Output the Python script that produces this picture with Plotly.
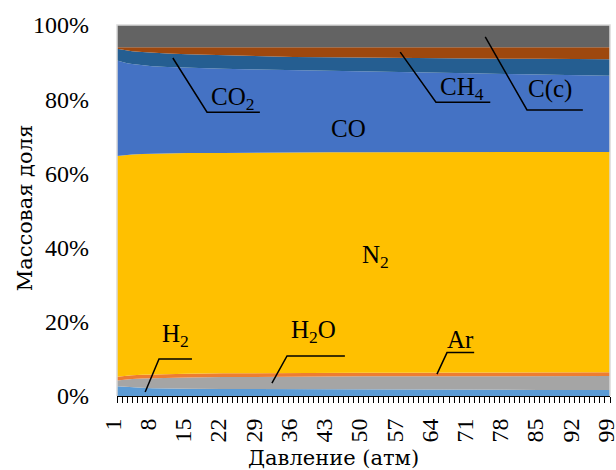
import plotly.graph_objects as go

# Pressure points (atm) and mass fractions (%) of the equilibrium products
pressure = [1, 2, 3, 4, 6, 8, 11, 15, 22, 29, 36, 43, 50, 57, 64, 71, 78, 85, 92, 99]

h2 = [2.6, 2.5, 2.4, 2.3, 2.2, 2.1, 2.0, 1.95, 1.9, 1.85, 1.8, 1.78, 1.75, 1.72, 1.7, 1.68, 1.66, 1.64, 1.62, 1.6]
h2o = [1.6, 1.9, 2.1, 2.3, 2.5, 2.7, 2.9, 3.05, 3.2, 3.35, 3.4, 3.52, 3.55, 3.58, 3.65, 3.67, 3.74, 3.76, 3.78, 3.8]
ar = [1.0, 1.0, 1.0, 1.0, 1.0, 1.0, 1.0, 1.0, 1.0, 1.0, 1.0, 1.0, 1.0, 1.0, 1.0, 1.0, 1.0, 1.0, 1.0, 1.0]
n2 = [59.5, 59.5, 59.5, 59.5, 59.5, 59.5, 59.5, 59.5, 59.4, 59.4, 59.4, 59.4, 59.4, 59.4, 59.4, 59.4, 59.4, 59.4, 59.4, 59.4]
co = [25.7, 25.1, 24.7, 24.4, 24.0, 23.6, 23.3, 23.0, 22.7, 22.4, 22.2, 21.95, 21.8, 21.6, 21.4, 21.25, 21.05, 20.8, 20.6, 20.5]
co2 = [3.2, 3.3, 3.4, 3.4, 3.5, 3.6, 3.6, 3.6, 3.6, 3.6, 3.6, 3.7, 3.7, 3.8, 3.9, 4.0, 4.1, 4.3, 4.4, 4.5]
ch4 = [0.4, 0.7, 0.9, 1.1, 1.3, 1.5, 1.7, 1.9, 2.2, 2.4, 2.6, 2.7, 2.8, 2.9, 3.0, 3.0, 3.1, 3.1, 3.2, 3.2]
c_s = [6.0, 6.0, 6.0, 6.0, 6.0, 6.0, 6.0, 6.0, 6.0, 6.0, 6.0, 6.0, 6.0, 6.0, 6.0, 6.0, 6.0, 6.0, 6.0, 6.0]

species = ["H2", "H2O", "Ar", "N2", "CO", "CO2", "CH4", "C(c)"]
colors = ["#5B9BD5", "#A5A5A5", "#ED7D31", "#FFC000", "#4472C4", "#255E91", "#9E480E", "#636363"]
series = [h2, h2o, ar, n2, co, co2, ch4, c_s]

x_ticks = [1, 8, 15, 22, 29, 36, 43, 50, 57, 64, 71, 78, 85, 92, 99]
y_ticks = [0, 20, 40, 60, 80, 100]

FONT = "Liberation Serif, Tinos, DejaVu Serif, serif"
TITLE_FONT = "DejaVu Serif, serif"

fig = go.Figure()
for name, vals, col in zip(species, series, colors):
    fig.add_trace(go.Scatter(
        x=pressure, y=vals, name=name, mode="lines",
        stackgroup="one", groupnorm="percent",
        line=dict(width=0, color=col), fillcolor=col,
    ))

# In-plot labels: (text, text position, leader line points) in data units
labels = [
    ("CO<sub>2</sub>", (23.9, 80.3), [(12.1, 91.1), (18.9, 76.5), (29.4, 76.5)]),
    ("CH<sub>4</sub>", (69.6, 83.0), [(57.3, 92.7), (64.4, 79.2), (75.2, 79.2)]),
    ("C(c)", (87.0, 82.8), [(74.2, 96.8), (82.5, 77.1), (93.6, 77.1)]),
    ("CO", (47.1, 72.2), None),
    ("N<sub>2</sub>", (52.3, 37.5), None),
    ("H<sub>2</sub>", (12.6, 16.2), [(6.6, 1.1), (9.35, 10.0), (15.9, 10.0)]),
    ("H<sub>2</sub>O", (40.0, 17.3), [(31.8, 3.5), (34.8, 10.8), (46.3, 10.8)]),
    ("Ar", (69.3, 15.2), [(64.6, 5.9), (66.6, 11.7), (72.0, 11.7)]),
]

shapes = []
annotations = []
for text, (tx, ty), pts in labels:
    annotations.append(dict(
        x=tx, y=ty, xref="x", yref="y", text=text, showarrow=False,
        font=dict(family=FONT, size=25, color="black"),
    ))
    if pts:
        path = "M {} {}".format(*pts[0]) + "".join(" L {} {}".format(px, py) for px, py in pts[1:])
        shapes.append(dict(type="path", path=path, xref="x", yref="y",
                           line=dict(color="black", width=1.5)))

# light frame on the left, top and right of the plot area
shapes.append(dict(type="path", path="M 0 0 L 0 1 L 1 1 L 1 0", xref="paper", yref="paper",
                   line=dict(color="#D9D9D9", width=1.5), layer="above"))

annotations.append(dict(
    x=0.44, y=-0.167, xref="paper", yref="paper", text="Давление (атм)",
    showarrow=False, yanchor="middle", xanchor="center",
    font=dict(family=TITLE_FONT, size=21, color="black"),
))
annotations.append(dict(
    x=-0.187, y=0.508, xref="paper", yref="paper", text="Массовая доля",
    showarrow=False, textangle=-90, yanchor="middle", xanchor="center",
    font=dict(family=TITLE_FONT, size=21, color="black"),
))

fig.update_layout(
    width=616, height=470,
    margin=dict(l=117, r=6, t=25, b=74, autoexpand=False),
    paper_bgcolor="white", plot_bgcolor="white",
    showlegend=False,
    font=dict(family=FONT, size=24, color="black"),
    shapes=shapes, annotations=annotations,
    xaxis=dict(
        range=[1, 99], tickmode="array", tickvals=x_ticks,
        ticktext=[str(v) for v in x_ticks], tickangle=-90,
        ticklabeloverflow="allow", automargin=False,
        ticklabelshift=-4, ticklabelstandoff=6,
        ticks="outside", ticklen=6, tickcolor="black", tickwidth=1,
        minor=dict(tickmode="linear", tick0=1, dtick=1, ticks="outside",
                   ticklen=6, tickcolor="black", tickwidth=1),
        showline=True, linecolor="black", linewidth=1,
        showgrid=False, zeroline=False,
        tickfont=dict(family=FONT, size=24, color="black"),
    ),
    yaxis=dict(
        range=[0, 100], tickmode="array", tickvals=y_ticks,
        ticktext=[f"{v}%" for v in y_ticks], ticks="",
        ticklabelstandoff=27, automargin=False,
        showline=False, showgrid=False, zeroline=False,
        tickfont=dict(family=FONT, size=24, color="black"),
    ),
)

fig.write_html("out.html")
